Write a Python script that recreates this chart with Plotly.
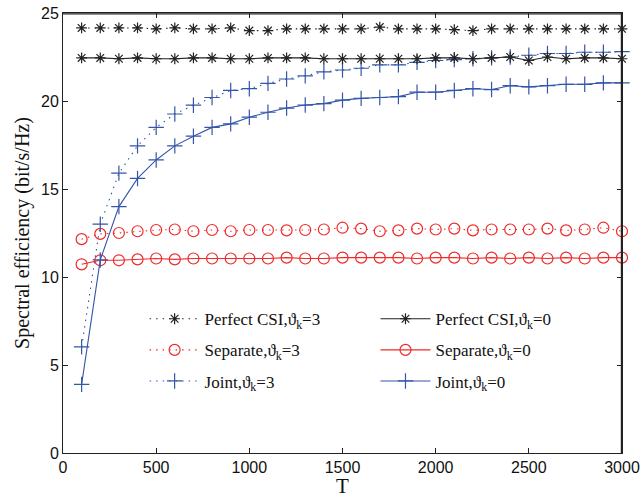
import plotly.graph_objects as go

T = list(range(100, 3001, 100))

perfect_3 = [24.15, 24.15, 24.15, 24.15, 24.1, 24.15, 24.1, 24.1, 24.15, 24.0,
             24.0, 24.1, 24.1, 24.1, 24.1, 24.1, 24.2, 24.1, 24.1, 24.1,
             24.05, 24.0, 24.1, 24.1, 24.1, 24.1, 24.1, 24.1, 24.1, 24.1]
perfect_0 = [22.45, 22.45, 22.4, 22.45, 22.4, 22.4, 22.45, 22.45, 22.4, 22.4,
             22.45, 22.45, 22.45, 22.4, 22.4, 22.4, 22.4, 22.4, 22.4, 22.45,
             22.45, 22.4, 22.45, 22.5, 22.3, 22.5, 22.4, 22.45, 22.45, 22.4]
separate_3 = [12.15, 12.45, 12.5, 12.6, 12.67, 12.7, 12.6, 12.67, 12.6, 12.67,
              12.67, 12.65, 12.67, 12.7, 12.8, 12.75, 12.6, 12.65, 12.75, 12.7,
              12.75, 12.65, 12.7, 12.7, 12.7, 12.75, 12.65, 12.7, 12.8, 12.6]
separate_0 = [10.72, 10.95, 10.95, 11.0, 11.05, 11.0, 11.05, 11.05, 11.05, 11.05,
              11.05, 11.1, 11.05, 11.05, 11.1, 11.1, 11.1, 11.1, 11.05, 11.1,
              11.1, 11.05, 11.1, 11.05, 11.1, 11.05, 11.1, 11.05, 11.1, 11.1]
joint_3 = [6.03, 13.0, 15.9, 17.45, 18.5, 19.26, 19.76, 20.2, 20.6, 20.7,
           21.0, 21.25, 21.43, 21.66, 21.76, 21.86, 22.05, 22.05, 22.2, 22.3,
           22.35, 22.4, 22.45, 22.5, 22.6, 22.7, 22.7, 22.77, 22.77, 22.8]
joint_0 = [3.9, 10.97, 14.0, 15.6, 16.65, 17.45, 18.0, 18.5, 18.7, 19.08,
           19.36, 19.6, 19.77, 19.85, 20.05, 20.15, 20.2, 20.25, 20.5, 20.5,
           20.6, 20.7, 20.65, 20.87, 20.8, 20.87, 20.95, 20.95, 21.03, 21.03]

x_ticks = [0, 500, 1000, 1500, 2000, 2500, 3000]
y_ticks = [0, 5, 10, 15, 20, 25]

BLACK = "#222222"
RED = "#ee2a2a"
BLUE = "#3355aa"
DOTS = "1.5px,5px"

series = [
    ("Perfect CSI,ϑ<sub>k</sub>=3", perfect_3, BLACK, DOTS, "asterisk-open", 9, "legend"),
    ("Separate,ϑ<sub>k</sub>=3", separate_3, RED, DOTS, "circle-open", 11, "legend"),
    ("Joint,ϑ<sub>k</sub>=3", joint_3, BLUE, DOTS, "cross-thin-open", 11, "legend"),
    ("Perfect CSI,ϑ<sub>k</sub>=0", perfect_0, BLACK, "solid", "asterisk-open", 9, "legend2"),
    ("Separate,ϑ<sub>k</sub>=0", separate_0, RED, "solid", "circle-open", 11, "legend2"),
    ("Joint,ϑ<sub>k</sub>=0", joint_0, BLUE, "solid", "cross-thin-open", 11, "legend2"),
]

fig = go.Figure()
for i, (name, ys, col, dash, sym, sz, lg) in enumerate(series):
    fig.add_trace(go.Scatter(
        x=T, y=ys, name=name, mode="lines+markers",
        line=dict(color=col, width=1.1, dash=dash),
        marker=dict(symbol=sym, size=sz, color=col, line=dict(color=col, width=1.2)),
        legend=lg, legendgroup=str(i), cliponaxis=False,
    ))

leg_common = dict(
    bgcolor="rgba(0,0,0,0)", borderwidth=0,
    font=dict(family="Liberation Serif", size=17, color="#111111"),
    itemwidth=50, tracegroupgap=6, traceorder="grouped",
    xanchor="left", yanchor="top",
)

FRAME = dict(color="#222222", width=1.3)

fig.update_layout(
    template="none",
    width=641, height=498,
    margin=dict(l=63, r=19, t=13, b=45, autoexpand=False),
    plot_bgcolor="white", paper_bgcolor="white",
    showlegend=True,
    legend=dict(x=0.146, y=0.345, **leg_common),
    legend2=dict(x=0.559, y=0.345, **leg_common),
    shapes=[
        dict(type="line", xref="paper", yref="paper", x0=0, x1=1, y0=0.998, y1=0.998,
             line=FRAME, layer="above"),
        dict(type="line", xref="paper", yref="paper", x0=0.999, x1=0.999, y0=0, y1=1,
             line=FRAME, layer="above"),
    ],
    xaxis=dict(
        range=[0, 3000], tickvals=x_ticks, ticks="inside", ticklen=5,
        showline=True, linecolor="#222222", linewidth=1, mirror="ticks",
        tickcolor="#222222", ticklabeloverflow="allow",
        showgrid=False, zeroline=False, automargin=False,
        tickfont=dict(family="Liberation Sans", size=16, color="#111111"),
        title=dict(text="T", font=dict(family="Liberation Serif", size=21, color="#111111"), standoff=2),
    ),
    yaxis=dict(
        range=[0, 25], tickvals=y_ticks, ticks="inside", ticklen=5,
        showline=True, linecolor="#222222", linewidth=1, mirror="ticks",
        tickcolor="#222222", ticklabeloverflow="allow",
        showgrid=False, zeroline=False, automargin=False,
        tickfont=dict(family="Liberation Sans", size=16, color="#111111"),
        title=dict(text="Spectral efficiency (bit/s/Hz)", font=dict(family="Liberation Serif", size=20, color="#111111"), standoff=6),
    ),
)

fig.write_html(
    "out.html",
    config={"displayModeBar": False},
    post_script="document.body.style.margin='0';document.body.style.overflow='hidden';",
)
